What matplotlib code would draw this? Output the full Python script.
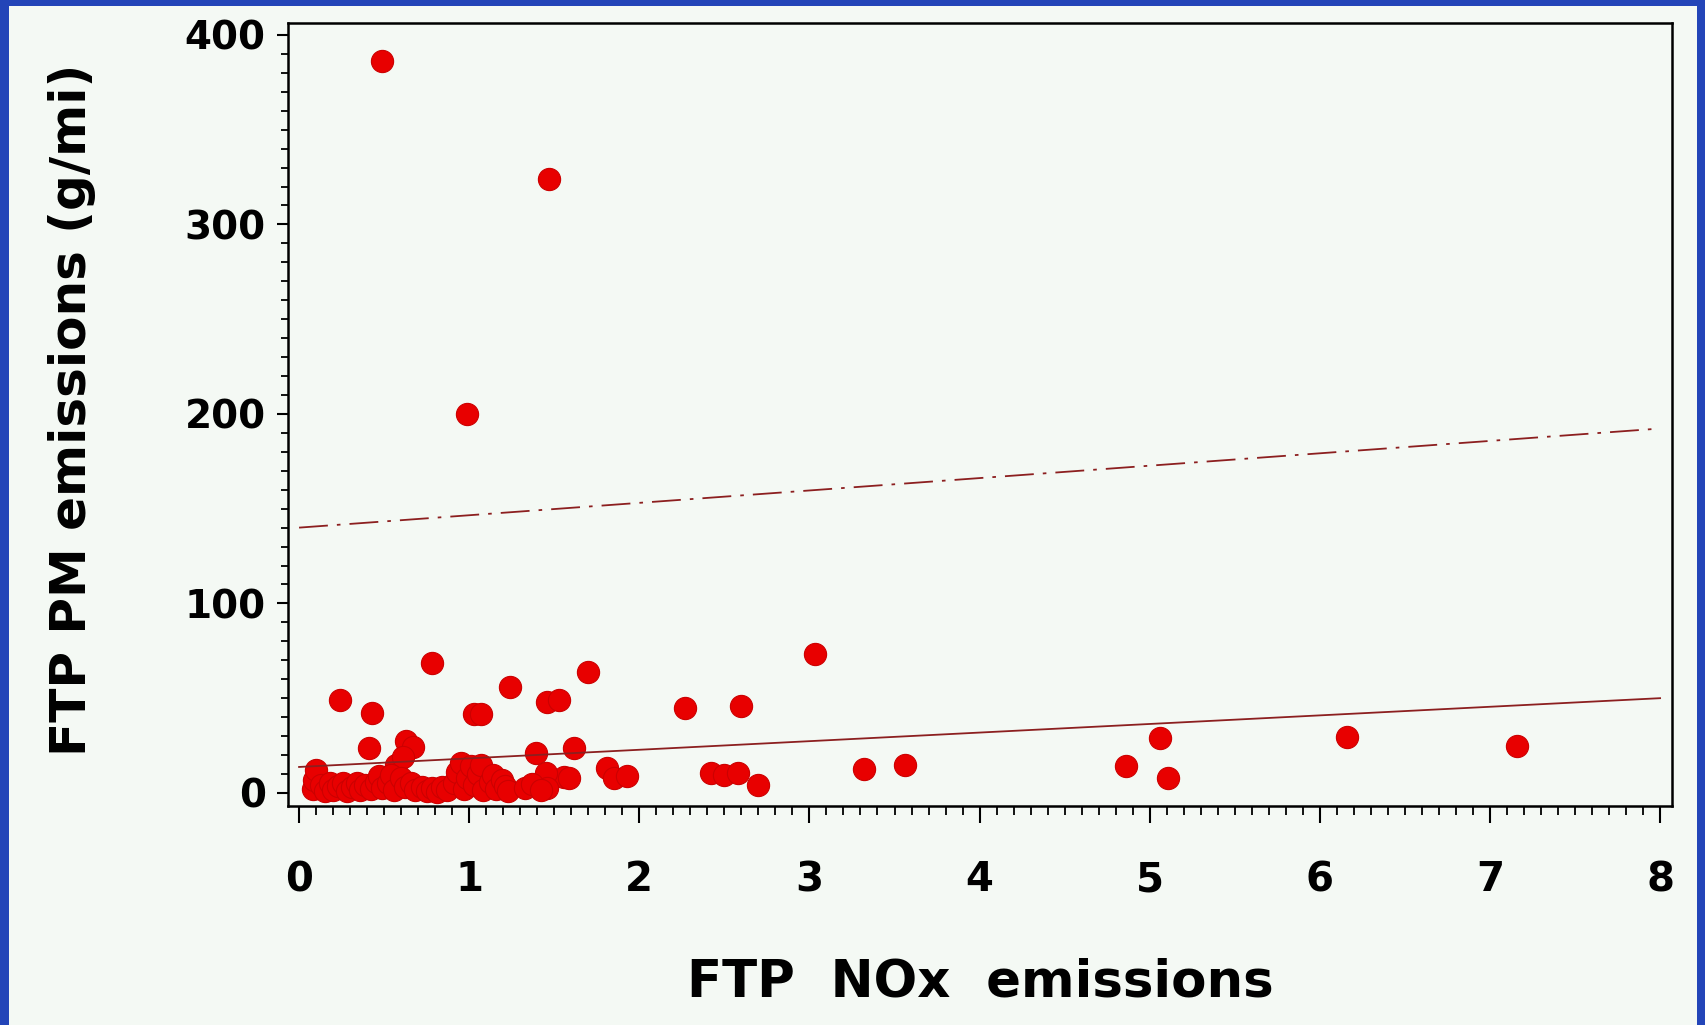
import matplotlib
matplotlib.use("Agg")
import matplotlib.pyplot as plt
from matplotlib.patches import Rectangle
from matplotlib.ticker import MultipleLocator

plt.rcParams["font.family"] = ["DejaVu Sans"]
plt.rcParams["font.weight"] = "bold"

# FTP NOx (x) vs FTP PM (y) emissions
nox = [0.49, 1.47, 0.99,
       0.78, 3.03, 1.70, 1.24, 0.24, 0.43, 1.03, 1.07, 1.46, 1.53, 2.27, 2.60,
       0.41, 0.63, 0.67, 0.57, 0.61, 1.39, 1.615, 1.56,
       1.45, 1.46, 1.585, 1.81, 1.85, 1.93, 2.42, 2.50, 2.58, 2.70,
       3.32, 3.56, 4.86, 5.06, 5.11, 6.16, 7.16,
       0.08, 0.09, 0.10, 0.13, 0.15,
       0.18, 0.20, 0.23, 0.26, 0.28, 0.31, 0.34, 0.36, 0.39, 0.42,
       0.45, 0.47, 0.49, 0.52, 0.54, 0.56,
       0.60, 0.62, 0.66, 0.68,
       0.72, 0.75, 0.78, 0.81, 0.84, 0.87,
       0.91, 0.93, 0.95, 0.97, 0.99, 1.01, 1.03, 1.05, 1.07, 1.08,
       1.12, 1.14, 1.16, 1.19, 1.21, 1.23,
       1.33, 1.37, 1.42]
pm = [386, 324, 200,
      68.5, 73.5, 64, 56, 49, 42, 41.5, 41.5, 48, 49, 45, 46,
      23.7, 27.5, 24, 15, 19, 21, 23.7, 8.5,
      10.5, 2.5, 8, 13, 8, 9, 10.5, 9.5, 10.5, 4,
      12.7, 14.8, 14.2, 29, 7.9, 29.6, 24.8,
      2, 7, 12, 4, 1,
      5, 1.5, 3.5, 5.5, 1, 3, 5, 1.5, 4, 2,
      6, 9, 2.5, 5.5, 9.5, 1.5,
      8, 3, 5.5, 1.5,
      3, 1, 2.5, 0.5, 3, 1.5,
      5, 11, 16, 2, 8, 14, 4, 10, 15, 1.5,
      6, 9.5, 2, 7, 3.5, 1,
      2.5, 4.5, 1.5]

# fitted line and upper limit line (end points)
line_x = [0, 8]
fit_y = [13.7, 50.0]
upper_y = [140.0, 192.3]

x_ticks = [0, 1, 2, 3, 4, 5, 6, 7, 8]
y_ticks = [0, 100, 200, 300, 400]

fig = plt.figure(figsize=(17.06, 10.25), dpi=100, facecolor="#2345b8")
fig.patches.append(Rectangle((9 / 1706, 0.0), 1688 / 1706, 1 - 6 / 1025,
                             transform=fig.transFigure, facecolor="#f4f9f4",
                             edgecolor="none", zorder=-5))

ax = fig.add_axes([288 / 1706, 1 - 806 / 1025, (1672 - 288) / 1706, (806 - 23) / 1025])
ax.set_facecolor("#f4f9f4")

ax.plot(nox, pm, "o", ms=16, color="#e80000", mec="#cc0000", mew=0.8, zorder=3)
ax.plot(line_x, fit_y, color="#8c1f1f", lw=1.3, zorder=4)
ax.plot(line_x, upper_y, color="#8c1f1f", lw=1.3, linestyle=(0, (16, 5, 2, 5)), zorder=4)

ax.set_xlim(-0.065, 8.07)
ax.set_ylim(-6.9, 406.3)
ax.set_xticks(x_ticks)
ax.set_yticks(y_ticks)
ax.xaxis.set_minor_locator(MultipleLocator(0.1))
ax.yaxis.set_minor_locator(MultipleLocator(10))

for s in ax.spines.values():
    s.set_linewidth(1.8)
ax.tick_params(axis="x", which="major", length=12, width=1.5, pad=27, labelsize=29)
ax.tick_params(axis="x", which="minor", length=6.5, width=1.3)
ax.tick_params(axis="y", which="major", length=8, width=1.5, pad=8, labelsize=28)
ax.tick_params(axis="y", which="minor", length=4.7, width=1.3)
for lab in ax.get_xticklabels() + ax.get_yticklabels():
    lab.set_fontweight("bold")

ax.set_xlabel("FTP  NOx  emissions", fontsize=37, fontweight="bold", va="center")
ax.xaxis.set_label_coords(0.5, -0.225)
ax.set_ylabel("FTP PM emissions (g/mi)", fontsize=36, fontweight="bold", va="center")
ax.yaxis.set_label_coords(-0.156, 0.506)

fig.savefig("out.png", dpi=100, facecolor=fig.get_facecolor())
